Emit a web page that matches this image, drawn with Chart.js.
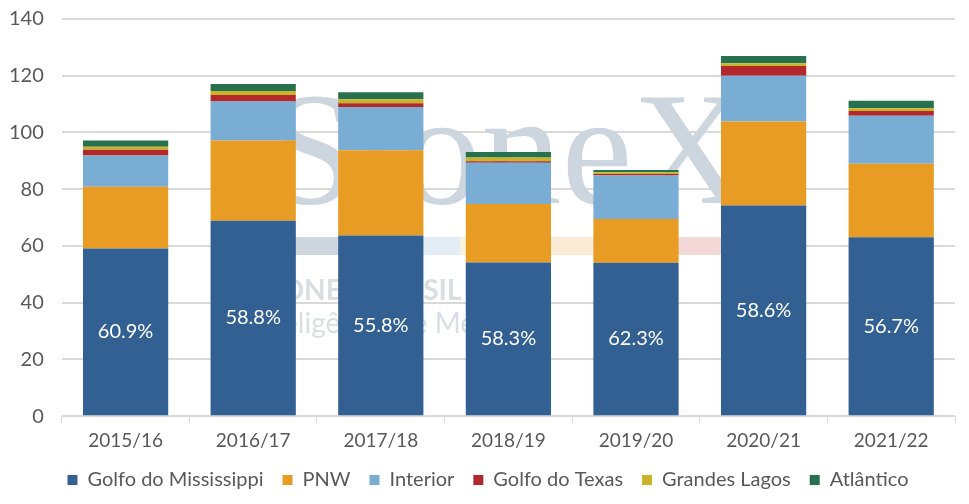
<!DOCTYPE html>
<html>
<head>
<meta charset="utf-8">
<script src="https://cdn.jsdelivr.net/npm/chart.js@4/dist/chart.umd.min.js"></script>
<style>
  html, body { margin: 0; padding: 0; background: #ffffff; }
  #wrap { width: 969px; height: 504px; }
</style>
</head>
<body>
<div id="wrap"><canvas id="grafico" width="969" height="504"></canvas></div>
<script>
// safras
var safras = ['2015/16', '2016/17', '2017/18', '2018/19', '2019/20', '2020/21', '2021/22'];

// volumes por região
var golfoMississippi = [59.1, 68.9, 63.7, 54.2, 54.1, 74.3, 63.1];
var pnw = [21.8, 28.3, 30.0, 20.6, 15.4, 29.6, 25.9];
var interior = [11.0, 13.7, 15.3, 14.5, 15.3, 16.1, 16.9];
var golfoTexas = [2.0, 2.3, 1.3, 0.6, 0.6, 3.4, 1.7];
var grandesLagos = [1.1, 1.4, 1.4, 1.3, 0.6, 1.0, 0.9];
var atlantico = [2.2, 2.5, 2.5, 1.9, 0.8, 2.6, 2.7];

// participação do Golfo do Mississippi
var participacao = ['60.9%', '58.8%', '55.8%', '58.3%', '62.3%', '58.6%', '56.7%'];

var yTicks = [0, 20, 40, 60, 80, 100, 120, 140];

var corTexto = '#595959';
var fonte = "Lato, 'Open Sans', sans-serif";

// marca d'água atrás das barras
var marcaDagua = {
    id: 'marcaDagua',
    beforeDatasetsDraw: function(chart) {
        var ctx = chart.ctx;
        ctx.save();
        ctx.fillStyle = '#cdd6df';
        ctx.font = "160px 'Liberation Serif', serif";
        ctx.textBaseline = 'alphabetic';
        ctx.textAlign = 'left';
        ctx.fillText('StoneX', 268, 203);
        // faixa colorida
        var faixa = ['#cdd6df', '#e3edf5', '#f9f4dc', '#f9ebd6', '#f3d8d8'];
        for (var i = 0; i < faixa.length; i++) {
            ctx.fillStyle = faixa[i];
            ctx.fillRect(280 + i * 90, 237, 90, 18);
        }
        ctx.fillStyle = '#d9dee3';
        ctx.font = "bold 28px Lato, sans-serif";
        ctx.fillText('STONEX BRASIL', 250, 300);
        ctx.font = "28px Lato, sans-serif";
        ctx.fillText('Inteligência de Mercado', 250, 333);
        ctx.restore();
    }
};

// rótulos de percentual dentro das barras azuis
var rotulos = {
    id: 'rotulos',
    afterDatasetsDraw: function(chart) {
        var ctx = chart.ctx;
        var meta = chart.getDatasetMeta(0);
        ctx.save();
        ctx.fillStyle = '#ffffff';
        ctx.font = '20px ' + fonte;
        ctx.textAlign = 'center';
        ctx.textBaseline = 'middle';
        meta.data.forEach(function(bar, i) {
            var meio = (bar.y + bar.base) / 2;
            ctx.fillText(participacao[i], bar.x, meio);
        });
        ctx.restore();
    }
};

// desloca a legenda um pouco para a direita
var ajusteLegenda = {
    id: 'ajusteLegenda',
    afterLayout: function(chart) {
        chart.legend.left += 15;
        chart.legend.right += 15;
    }
};

function serie(nome, dados, cor) {
    return {
        label: nome,
        data: dados,
        backgroundColor: cor,
        borderWidth: 0,
        categoryPercentage: 1.0,
        barPercentage: 0.668
    };
}

var ctx = document.getElementById('grafico').getContext('2d');
var grafico = new Chart(ctx, {
    type: 'bar',
    data: {
        labels: safras,
        datasets: [
            serie('Golfo do Mississippi', golfoMississippi, '#336092'),
            serie('PNW', pnw, '#e89c23'),
            serie('Interior', interior, '#7aadd4'),
            serie('Golfo do Texas', golfoTexas, '#b3282d'),
            serie('Grandes Lagos', grandesLagos, '#c8b42a'),
            serie('Atlântico', atlantico, '#27714f')
        ]
    },
    options: {
        responsive: false,
        animation: false,
        devicePixelRatio: 1,
        layout: { padding: { left: -9, right: 14, top: 19, bottom: 4 } },
        plugins: {
            legend: {
                position: 'bottom',
                labels: {
                    boxWidth: 10,
                    boxHeight: 10,
                    padding: 19,
                    color: corTexto,
                    font: { family: fonte, size: 20 }
                }
            },
            tooltip: { enabled: false }
        },
        scales: {
            x: {
                stacked: true,
                afterFit: function(scale) {
                    scale.height -= 7;
                },
                grid: {
                    drawOnChartArea: false,
                    drawTicks: true,
                    tickLength: 7,
                    color: '#d9d9d9'
                },
                border: { color: '#d9d9d9' },
                ticks: {
                    color: corTexto,
                    padding: 6,
                    font: { family: fonte, size: 19 }
                }
            },
            y: {
                stacked: true,
                min: 0,
                max: 140,
                afterBuildTicks: function(axis) {
                    axis.ticks = yTicks.map(function(v) { return { value: v }; });
                },
                afterFit: function(scale) {
                    // o espaçamento horizontal dos rótulos não deve empurrar o topo
                    scale.paddingTop = 0;
                    scale.paddingBottom = 0;
                },
                grid: {
                    color: '#d9d9d9',
                    drawTicks: false,
                    lineWidth: 2
                },
                border: { display: false },
                ticks: {
                    color: corTexto,
                    padding: 18,
                    font: { family: fonte, size: 20 }
                }
            }
        }
    },
    plugins: [marcaDagua, rotulos, ajusteLegenda]
});
</script>
</body>
</html>
